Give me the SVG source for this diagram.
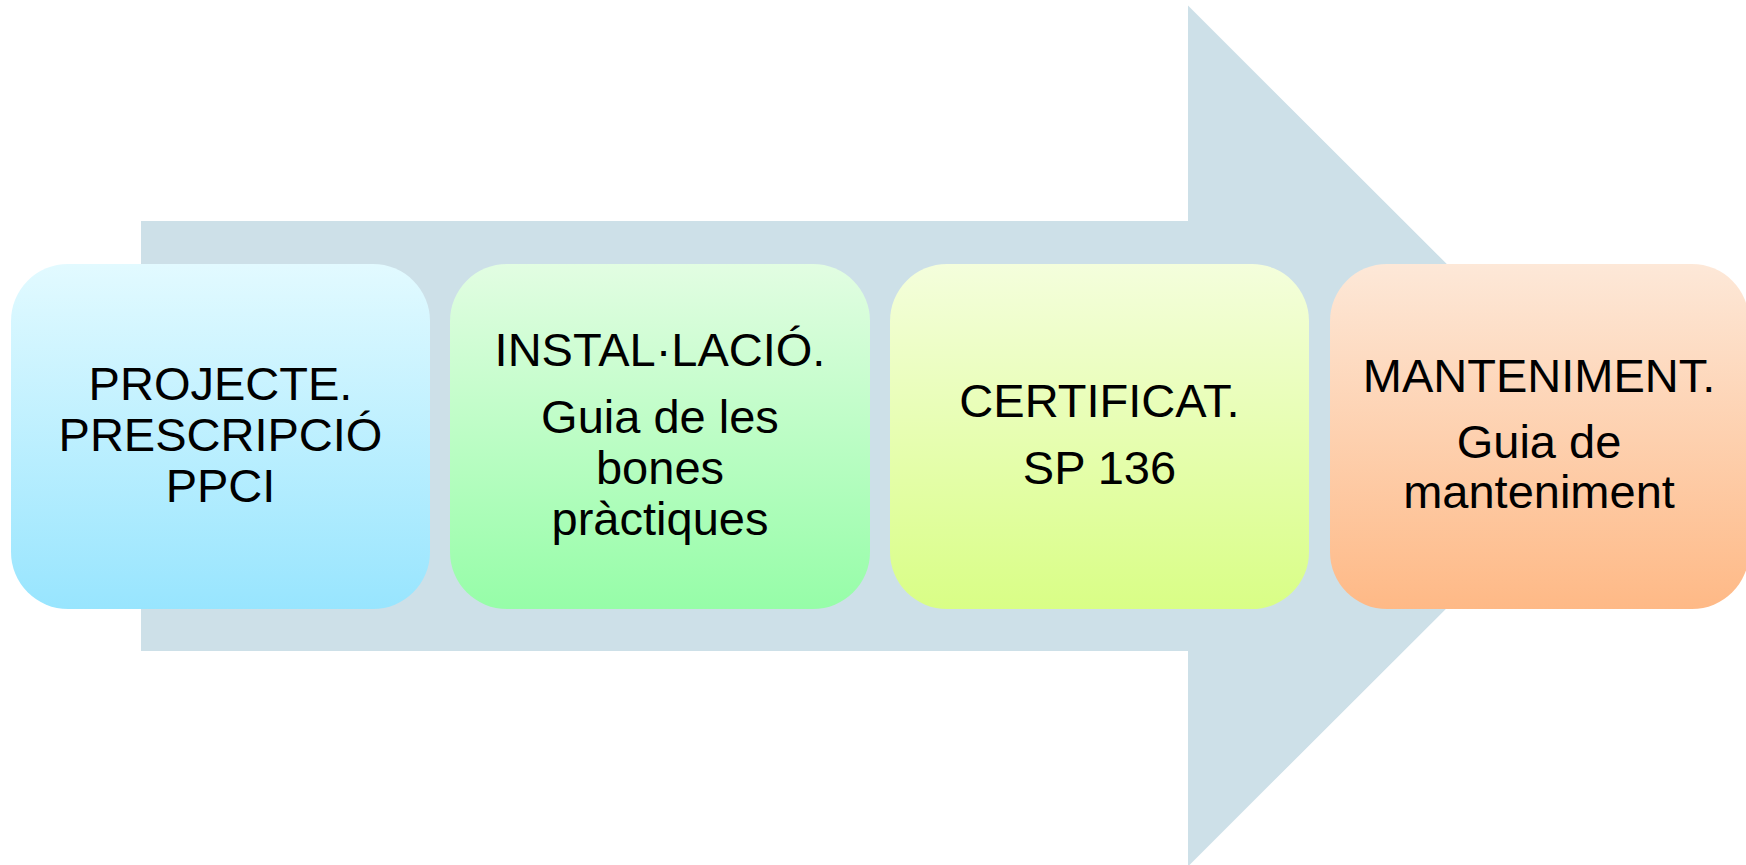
<svg xmlns="http://www.w3.org/2000/svg" width="1746" height="865" viewBox="0 0 1746 865">
<defs>
<linearGradient id="g1" x1="0" y1="0" x2="0" y2="1"><stop offset="0" stop-color="#E2FAFF"/><stop offset="1" stop-color="#98E5FE"/></linearGradient>
<linearGradient id="g2" x1="0" y1="0" x2="0" y2="1"><stop offset="0" stop-color="#E2FDE2"/><stop offset="1" stop-color="#96FDA8"/></linearGradient>
<linearGradient id="g3" x1="0" y1="0" x2="0" y2="1"><stop offset="0" stop-color="#F4FEDC"/><stop offset="1" stop-color="#D9FE86"/></linearGradient>
<linearGradient id="g4" x1="0" y1="0" x2="0" y2="1"><stop offset="0" stop-color="#FDE8D8"/><stop offset="1" stop-color="#FEB986"/></linearGradient>
<style>
.box{stroke:none}
.t{font-family:"Liberation Sans",Arial,sans-serif;font-size:47px;fill:#000;text-anchor:middle}
</style>
</defs>
<rect width="1746" height="865" fill="#FFFFFF"/>
<g id="connectors">
<polygon points="141,221 1188,221 1188,5.5 1619,436 1188,866.5 1188,651 141,651" fill="#CDE0E8"/>
</g>
<g id="node1">
<rect class="box" x="11" y="264" width="419" height="345" rx="57" ry="57" fill="url(#g1)"/>
<text class="t" x="220.5" y="400">PROJECTE.</text>
<text class="t" x="220.5" y="451">PRESCRIPCIÓ</text>
<text class="t" x="220.5" y="502">PPCI</text>
</g>
<g id="node2">
<rect class="box" x="450" y="264" width="420" height="345" rx="57" ry="57" fill="url(#g2)"/>
<text class="t" x="660" y="366">INSTAL·LACIÓ.</text>
<text class="t" x="660" y="433">Guia de les</text>
<text class="t" x="660" y="484">bones</text>
<text class="t" x="660" y="535">pràctiques</text>
</g>
<g id="node3">
<rect class="box" x="890" y="264" width="419" height="345" rx="57" ry="57" fill="url(#g3)"/>
<text class="t" x="1099.5" y="417">CERTIFICAT.</text>
<text class="t" x="1099.5" y="484">SP 136</text>
</g>
<g id="node4">
<rect class="box" x="1330" y="264" width="419" height="345" rx="57" ry="57" fill="url(#g4)"/>
<text class="t" x="1539" y="392">MANTENIMENT.</text>
<text class="t" x="1539" y="458">Guia de</text>
<text class="t" x="1539" y="508">manteniment</text>
</g>
</svg>
